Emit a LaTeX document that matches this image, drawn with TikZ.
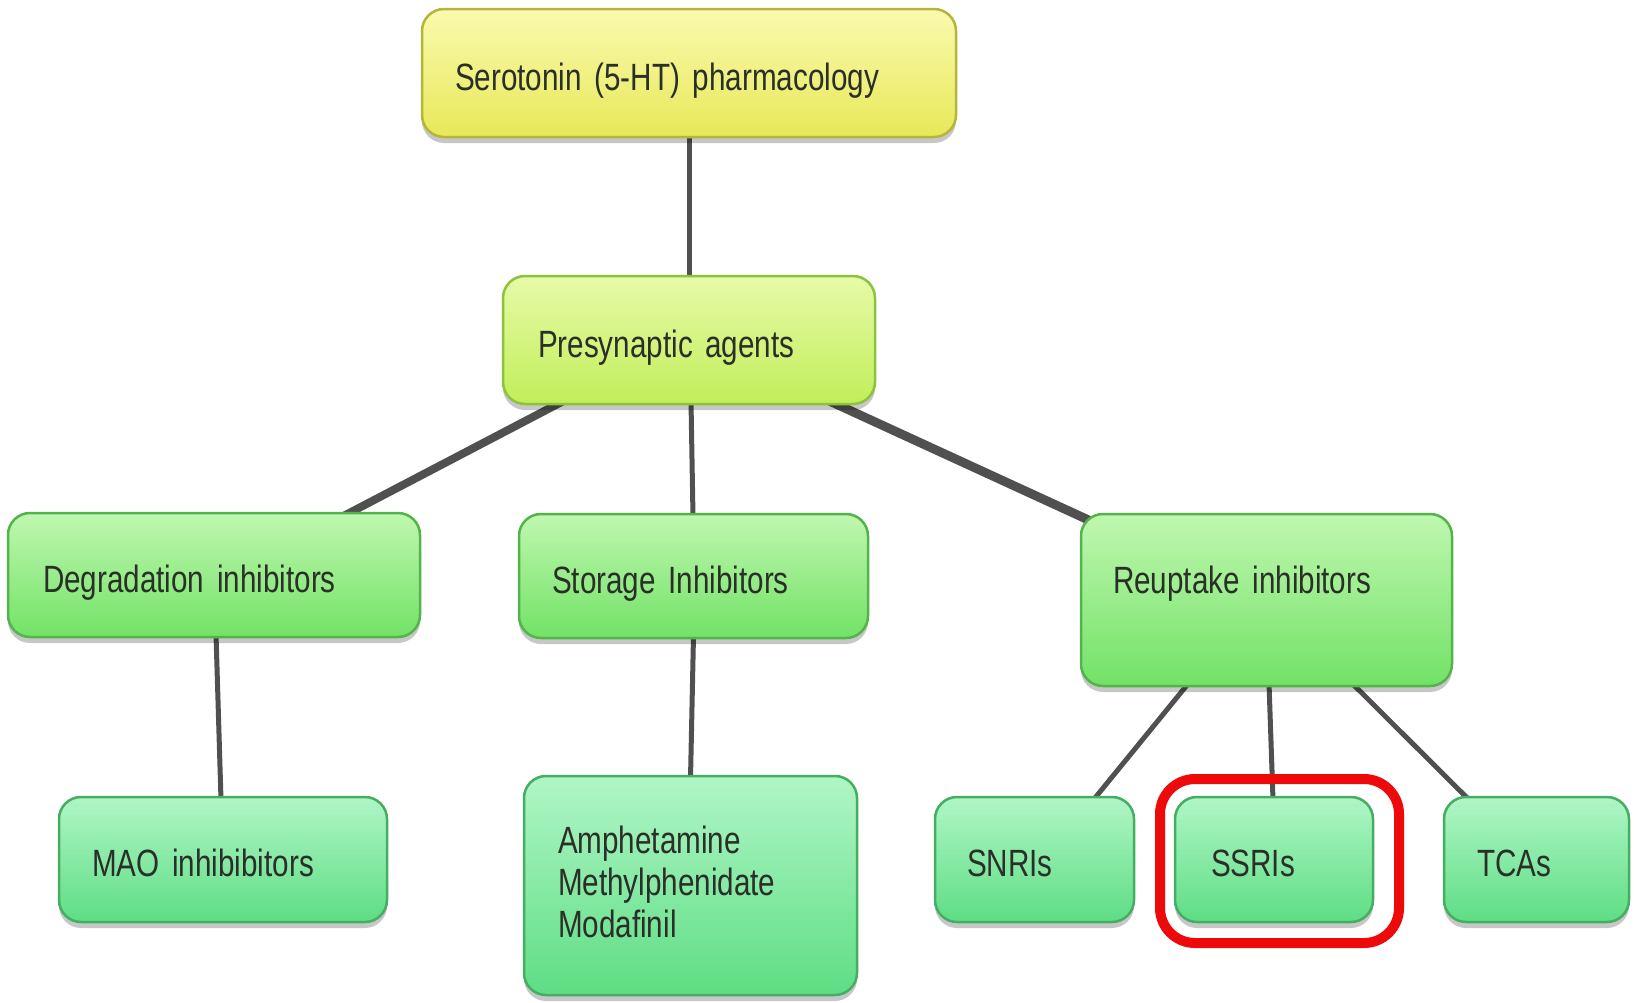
\documentclass[tikz,border=0pt]{standalone}
\usepackage{fontspec}
\newfontfamily\lblfont{Liberation Sans}[FakeStretch=0.78]
\usetikzlibrary{calc,shadows,backgrounds}
\definecolor{linkgray}{HTML}{505050}
\definecolor{txt}{HTML}{2A2F28}
\definecolor{ytop}{HTML}{FAFAB0}
\definecolor{ybot}{HTML}{E8E858}
\definecolor{ydraw}{HTML}{B5B53A}
\definecolor{ptop}{HTML}{E6FBA8}
\definecolor{pbot}{HTML}{C2EE5A}
\definecolor{pdraw}{HTML}{8CC23E}
\definecolor{gtop}{HTML}{C0F7B0}
\definecolor{gbot}{HTML}{72E266}
\definecolor{gdraw}{HTML}{52B44A}
\definecolor{btop}{HTML}{B0F6C6}
\definecolor{bbot}{HTML}{5EDD84}
\definecolor{bdraw}{HTML}{45AE62}
\definecolor{hlred}{HTML}{EE0A0A}
\tikzset{
  box/.style={draw, line width=2.5pt, rounded corners=22pt, inner xsep=0pt, inner ysep=0pt,
    align=left, font=\lblfont\fontsize{38}{42}\selectfont, text=txt,
    text height=34pt, text depth=0pt,
    drop shadow={shadow xshift=0pt, shadow yshift=-6pt, opacity=0.22, fill=black}},
  ybox/.style={box, draw=ydraw, top color=ytop, bottom color=ybot},
  pbox/.style={box, draw=pdraw, top color=ptop, bottom color=pbot},
  gbox/.style={box, draw=gdraw, top color=gtop, bottom color=gbot},
  bbox/.style={box, draw=bdraw, top color=btop, bottom color=bbot},
  link/.style={draw=linkgray, line width=#1},
  hlbox/.style={draw=hlred, line width=10pt, rounded corners=35pt, inner sep=0pt},
}
\begin{document}
\begin{tikzpicture}[x=1pt,y=-1pt]
\useasboundingbox (0,0) rectangle (1634,1002);
% nodes
\node[ybox, minimum width=534pt, minimum height=128pt, text width=468pt] (top) at (689,73) {Serotonin (5-HT) pharmacology};
\node[pbox, minimum width=372pt, minimum height=128pt, text width=302pt] (pre) at (689,340) {Presynaptic agents};
\node[gbox, minimum width=412pt, minimum height=124pt, text width=342pt] (deg) at (214,575) {Degradation inhibitors};
\node[gbox, minimum width=349pt, minimum height=124pt, text width=283pt] (sto) at (693.5,576) {Storage Inhibitors};
\node[gbox, minimum width=371pt, minimum height=172pt, text width=307pt, text depth=48pt] (reu) at (1266.5,600) {Reuptake inhibitors};
\node[bbox, minimum width=328pt, minimum height=125pt, text width=262pt] (mao) at (223,859.5) {MAO inhibibitors};
\node[bbox, minimum width=333pt, minimum height=219pt, text width=265pt, text height=27pt, text depth=91pt] (amp) at (690.5,885.5) {Amphetamine\\Methylphenidate\\Modafinil};
\node[bbox, minimum width=199pt, minimum height=125pt, text width=135pt] (snri) at (1034.5,859.5) {SNRIs};
\node[bbox, minimum width=198pt, minimum height=125pt, text width=126pt] (ssri) at (1274,859.5) {SSRIs};
\node[bbox, minimum width=185pt, minimum height=125pt, text width=119pt] (tca) at (1536.5,859.5) {TCAs};
\node[hlbox, minimum width=239pt, minimum height=164pt] (hl) at (1279.5,861) {};
% connectors
\begin{scope}[on background layer]
\draw[link=5pt] ([yshift=4pt]top.south) -- ([yshift=-4pt]pre.north);
\draw[link=8pt] ([xshift=-126pt,yshift=4pt]pre.south) -- ([xshift=130pt,yshift=-4pt]deg.north);
\draw[link=5pt] ([xshift=2pt,yshift=4pt]pre.south) -- ([xshift=-0.5pt,yshift=-4pt]sto.north);
\draw[link=9pt] ([xshift=141pt,yshift=4pt]pre.south) -- ([xshift=-172pt,yshift=-10pt]reu.north);
\draw[link=5pt] ([xshift=2pt,yshift=4pt]deg.south) -- ([xshift=-2pt,yshift=-4pt]mao.north);
\draw[link=5pt] ([yshift=4pt]sto.south) -- ([yshift=-4pt]amp.north);
\draw[link=5pt] ([xshift=-78pt,yshift=4pt]reu.south) -- ([xshift=59pt,yshift=-4pt]snri.north);
\draw[link=5pt] ([xshift=2.5pt,yshift=4pt]reu.south) -- ([xshift=-1pt,yshift=-4pt]ssri.north);
\draw[link=5pt] ([xshift=85.5pt,yshift=4pt]reu.south) -- ([xshift=-67.5pt,yshift=-4pt]tca.north);
\end{scope}
\end{tikzpicture}
\end{document}
